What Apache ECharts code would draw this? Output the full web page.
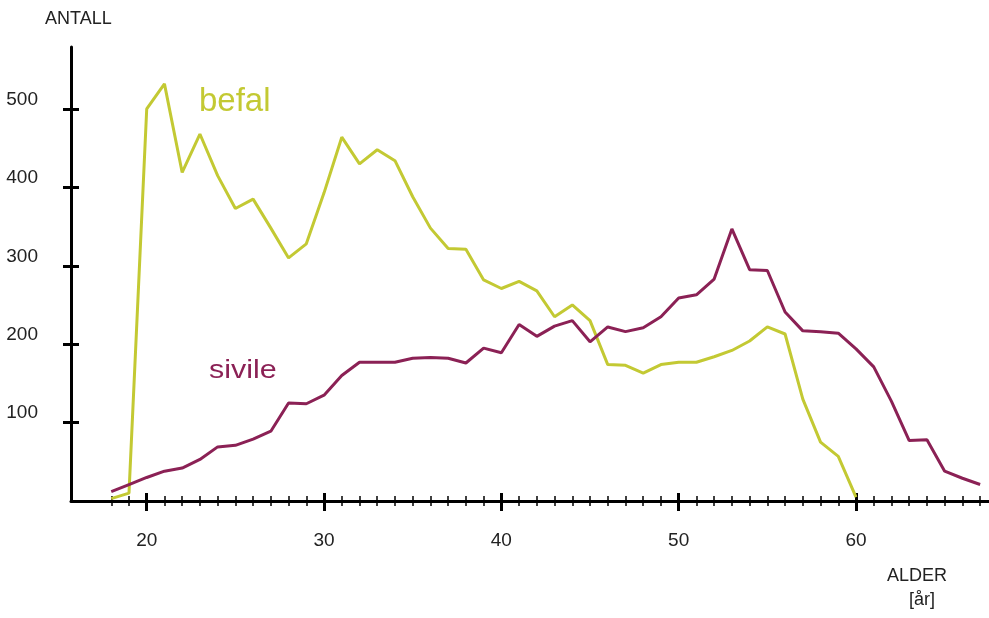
<!DOCTYPE html>
<html>
<head>
<meta charset="utf-8">
<script src="https://cdn.jsdelivr.net/npm/echarts@6/dist/echarts.min.js"></script>
<style>
  html, body { margin: 0; padding: 0; background: #fff; }
</style>
</head>
<body>
<div id="myChart" style="width: 989px; height: 618px;"></div>
<script>
// alder 18..67
var ages = [18,19,20,21,22,23,24,25,26,27,28,29,30,31,32,33,34,35,36,37,38,39,40,41,42,
  43,44,45,46,47,48,49,50,51,52,53,54,55,56,57,58,59,60,61,62,63,64,65,66,67];
// befal: 18..60
var befal = [3,10,500,532,419,468,415,373,385,348,310,328,393,464,430,448,434,388,348,322,
  321,282,271,280,268,235,250,230,174,173,163,174,177,177,184,192,204,222,213,130,75,57,5];
// sivile: 18..67
var sivile = [12,21,30,38,42,53,69,71,79,89,125,124,135,160,177,177,177,182,183,182,176,
  195,189,225,210,223,230,203,222,216,221,235,259,263,283,347,295,294,241,217,216,214,194,
  171,127,77,78,38,29,21];
var xLabels = [20,30,40,50,60];
var yLabels = [100,200,300,400,500];

var befalColor = '#c3c933';
var sivileColor = '#8b2155';
var font = "'Liberation Sans Narrow', 'Arial Narrow', 'Liberation Sans', sans-serif";

function pairs(vals) {
  var out = [];
  for (var i = 0; i < vals.length; i++) out.push([ages[i], vals[i]]);
  return out;
}

var xMin = 15.73, xMax = 67.5;

// ticks go both ways through the axis, so each tick set is drawn twice (outside + inside)
function xAx(show, tickValues, len, inside, width) {
  return {
    type: 'value', position: 'bottom', offset: 0, min: xMin, max: xMax,
    axisLine: { show: show, onZero: false, lineStyle: { color: '#000', width: 3 } },
    axisTick: { show: true, customValues: tickValues, length: len, inside: inside,
      lineStyle: { color: '#000', width: width } },
    axisLabel: { show: show, customValues: xLabels, margin: 30,
      color: '#222', fontSize: 19, fontFamily: font },
    splitLine: { show: false }
  };
}

function yAx(show, inside) {
  return {
    type: 'value', position: 'left', offset: 0, min: 0, max: 579,
    axisLine: { show: show, onZero: false, lineStyle: { color: '#000', width: 3 } },
    axisTick: { show: true, customValues: yLabels, length: 8, inside: inside,
      lineStyle: { color: '#000', width: 3 } },
    axisLabel: { show: show, customValues: yLabels, margin: 33, color: '#222',
      fontSize: 19, fontFamily: font, verticalAlign: 'bottom' },
    splitLine: { show: false }
  };
}

var option = {
  backgroundColor: '#fff',
  animation: false,
  grid: { left: 71, right: 0, top: 47, bottom: 117 },
  xAxis: [
    xAx(true, xLabels, 10, false, 3),
    xAx(false, xLabels, 8, true, 3),
    xAx(false, ages, 5, false, 1.5),
    xAx(false, ages, 5, true, 1.5)
  ],
  yAxis: [yAx(true, false), yAx(false, true)],
  graphic: [
    { type: 'text', left: 45, top: 10, style: { text: 'ANTALL', fontSize: 18, fontFamily: font, fill: '#222' } },
    { type: 'text', left: 887, top: 567, style: { text: 'ALDER', fontSize: 18, fontFamily: font, fill: '#222' } },
    { type: 'text', left: 909, top: 591, style: { text: '[år]', fontSize: 18, fontFamily: font, fill: '#222' } },
    { type: 'text', left: 199, top: 85, style: { text: 'befal', fontSize: 33, fontFamily: 'Liberation Sans, Arial, sans-serif', fill: befalColor } },
    { type: 'text', x: 209, y: 358, scaleX: 1.17, style: { text: 'sivile', fontSize: 26, fontFamily: 'Liberation Sans, Arial, sans-serif', fill: sivileColor } }
  ],
  series: [{
    name: 'befal', type: 'line', data: pairs(befal),
    showSymbol: false, symbol: 'none',
    lineStyle: { color: befalColor, width: 3 }
  }, {
    name: 'sivile', type: 'line', data: pairs(sivile),
    showSymbol: false, symbol: 'none',
    lineStyle: { color: sivileColor, width: 3 }
  }]
};

var myChart = echarts.init(document.getElementById('myChart'));
myChart.setOption(option);
</script>
</body>
</html>
